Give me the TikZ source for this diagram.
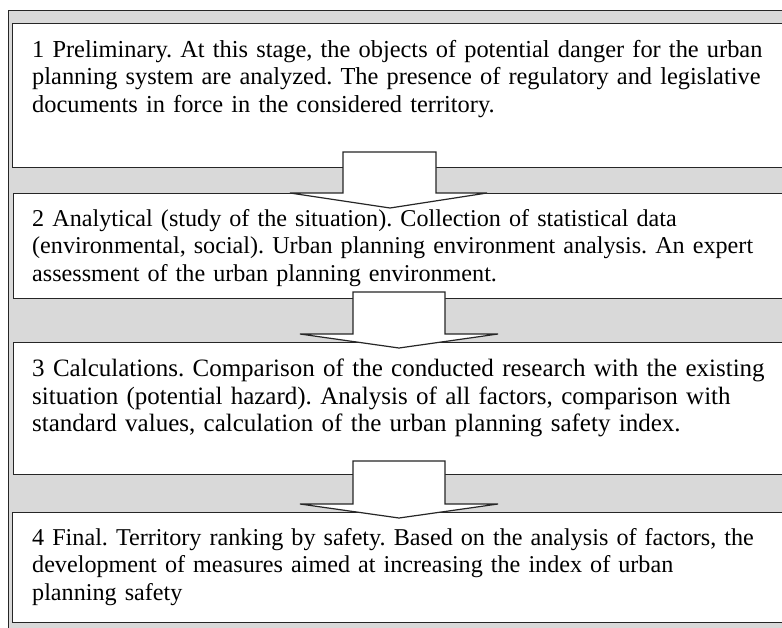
\documentclass[tikz,border=0pt]{standalone}
\usepackage{fontspec}
\setmainfont{Liberation Serif}
\definecolor{stripgray}{HTML}{D9D9D9}
\definecolor{linecol}{HTML}{262626}
\begin{document}
\frenchspacing
\begin{tikzpicture}[x=1pt,y=-1pt,
  framebox/.style={fill=stripgray,draw=linecol,line width=1pt},
  stagebox/.style={fill=white,draw=linecol,line width=1.2pt,anchor=north west,inner sep=0pt},
  blockarrow/.style={fill=white,draw=linecol,line width=1.2pt,line join=miter},
  txt/.style={anchor=north west,inner sep=0pt,text width=780pt,align=left,
    font=\fontsize{24.15}{27.5}\selectfont}]
\useasboundingbox (0,0) rectangle (782,627);
\begin{scope}
\clip (0,0) rectangle (782,627);
\node[framebox,anchor=north west,inner sep=0pt,minimum width=820pt,minimum height=650pt] (frame) at (7.5,10) {};
\node[stagebox,minimum width=800pt,minimum height=144pt] (b1) at (12,23) {};
\node[stagebox,minimum width=800pt,minimum height=104.5pt] (b2) at (12.5,193) {};
\node[stagebox,minimum width=800pt,minimum height=131.5pt] (b3) at (12.5,342) {};
\node[stagebox,minimum width=800pt,minimum height=109.5pt] (b4) at (11.5,512) {};
% block arrows
\draw[blockarrow] (343,152) -- (343,193) -- (290,193) -- (390,208) -- (487,193) -- (436,193) -- (436,152) -- cycle;
\draw[blockarrow] (353,292) -- (353,334) -- (300,334) -- (399,348) -- (498,334) -- (445,334) -- (445,292) -- cycle;
\draw[blockarrow] (353,461) -- (353,504) -- (300,504) -- (399,518) -- (498,504) -- (445,504) -- (445,461) -- cycle;
\end{scope}
\node[txt,font=\fontsize{24.4}{27.5}\selectfont] (t1) at (32,40) {\rule{0pt}{15pt}1 Preliminary. At this stage, the objects of potential danger for the urban\\
planning system are analyzed. The presence of regulatory and legislative\\
documents in force in the considered territory.};
\node[txt] (t2) at (32,209) {\rule{0pt}{15pt}2 Analytical (study of the situation). Collection of statistical data\\
(environmental, social). Urban planning environment analysis. An expert\\
assessment of the urban planning environment.};
\node[txt,font=\fontsize{25}{27.5}\selectfont] (t3) at (32,359) {\makebox[731pt][s]{\rule{0pt}{15pt}3 Calculations. Comparison of the conducted research with the existing}\\
\makebox[731pt][s]{situation (potential hazard). Analysis of all factors, comparison with}\\
standard values, calculation of the urban planning safety index.};
\node[txt] (t4) at (32,528) {\rule{0pt}{15pt}4 Final. Territory ranking by safety. Based on the analysis of factors, the\\
development of measures aimed at increasing the index of urban\\
planning safety};
\end{tikzpicture}
\end{document}
